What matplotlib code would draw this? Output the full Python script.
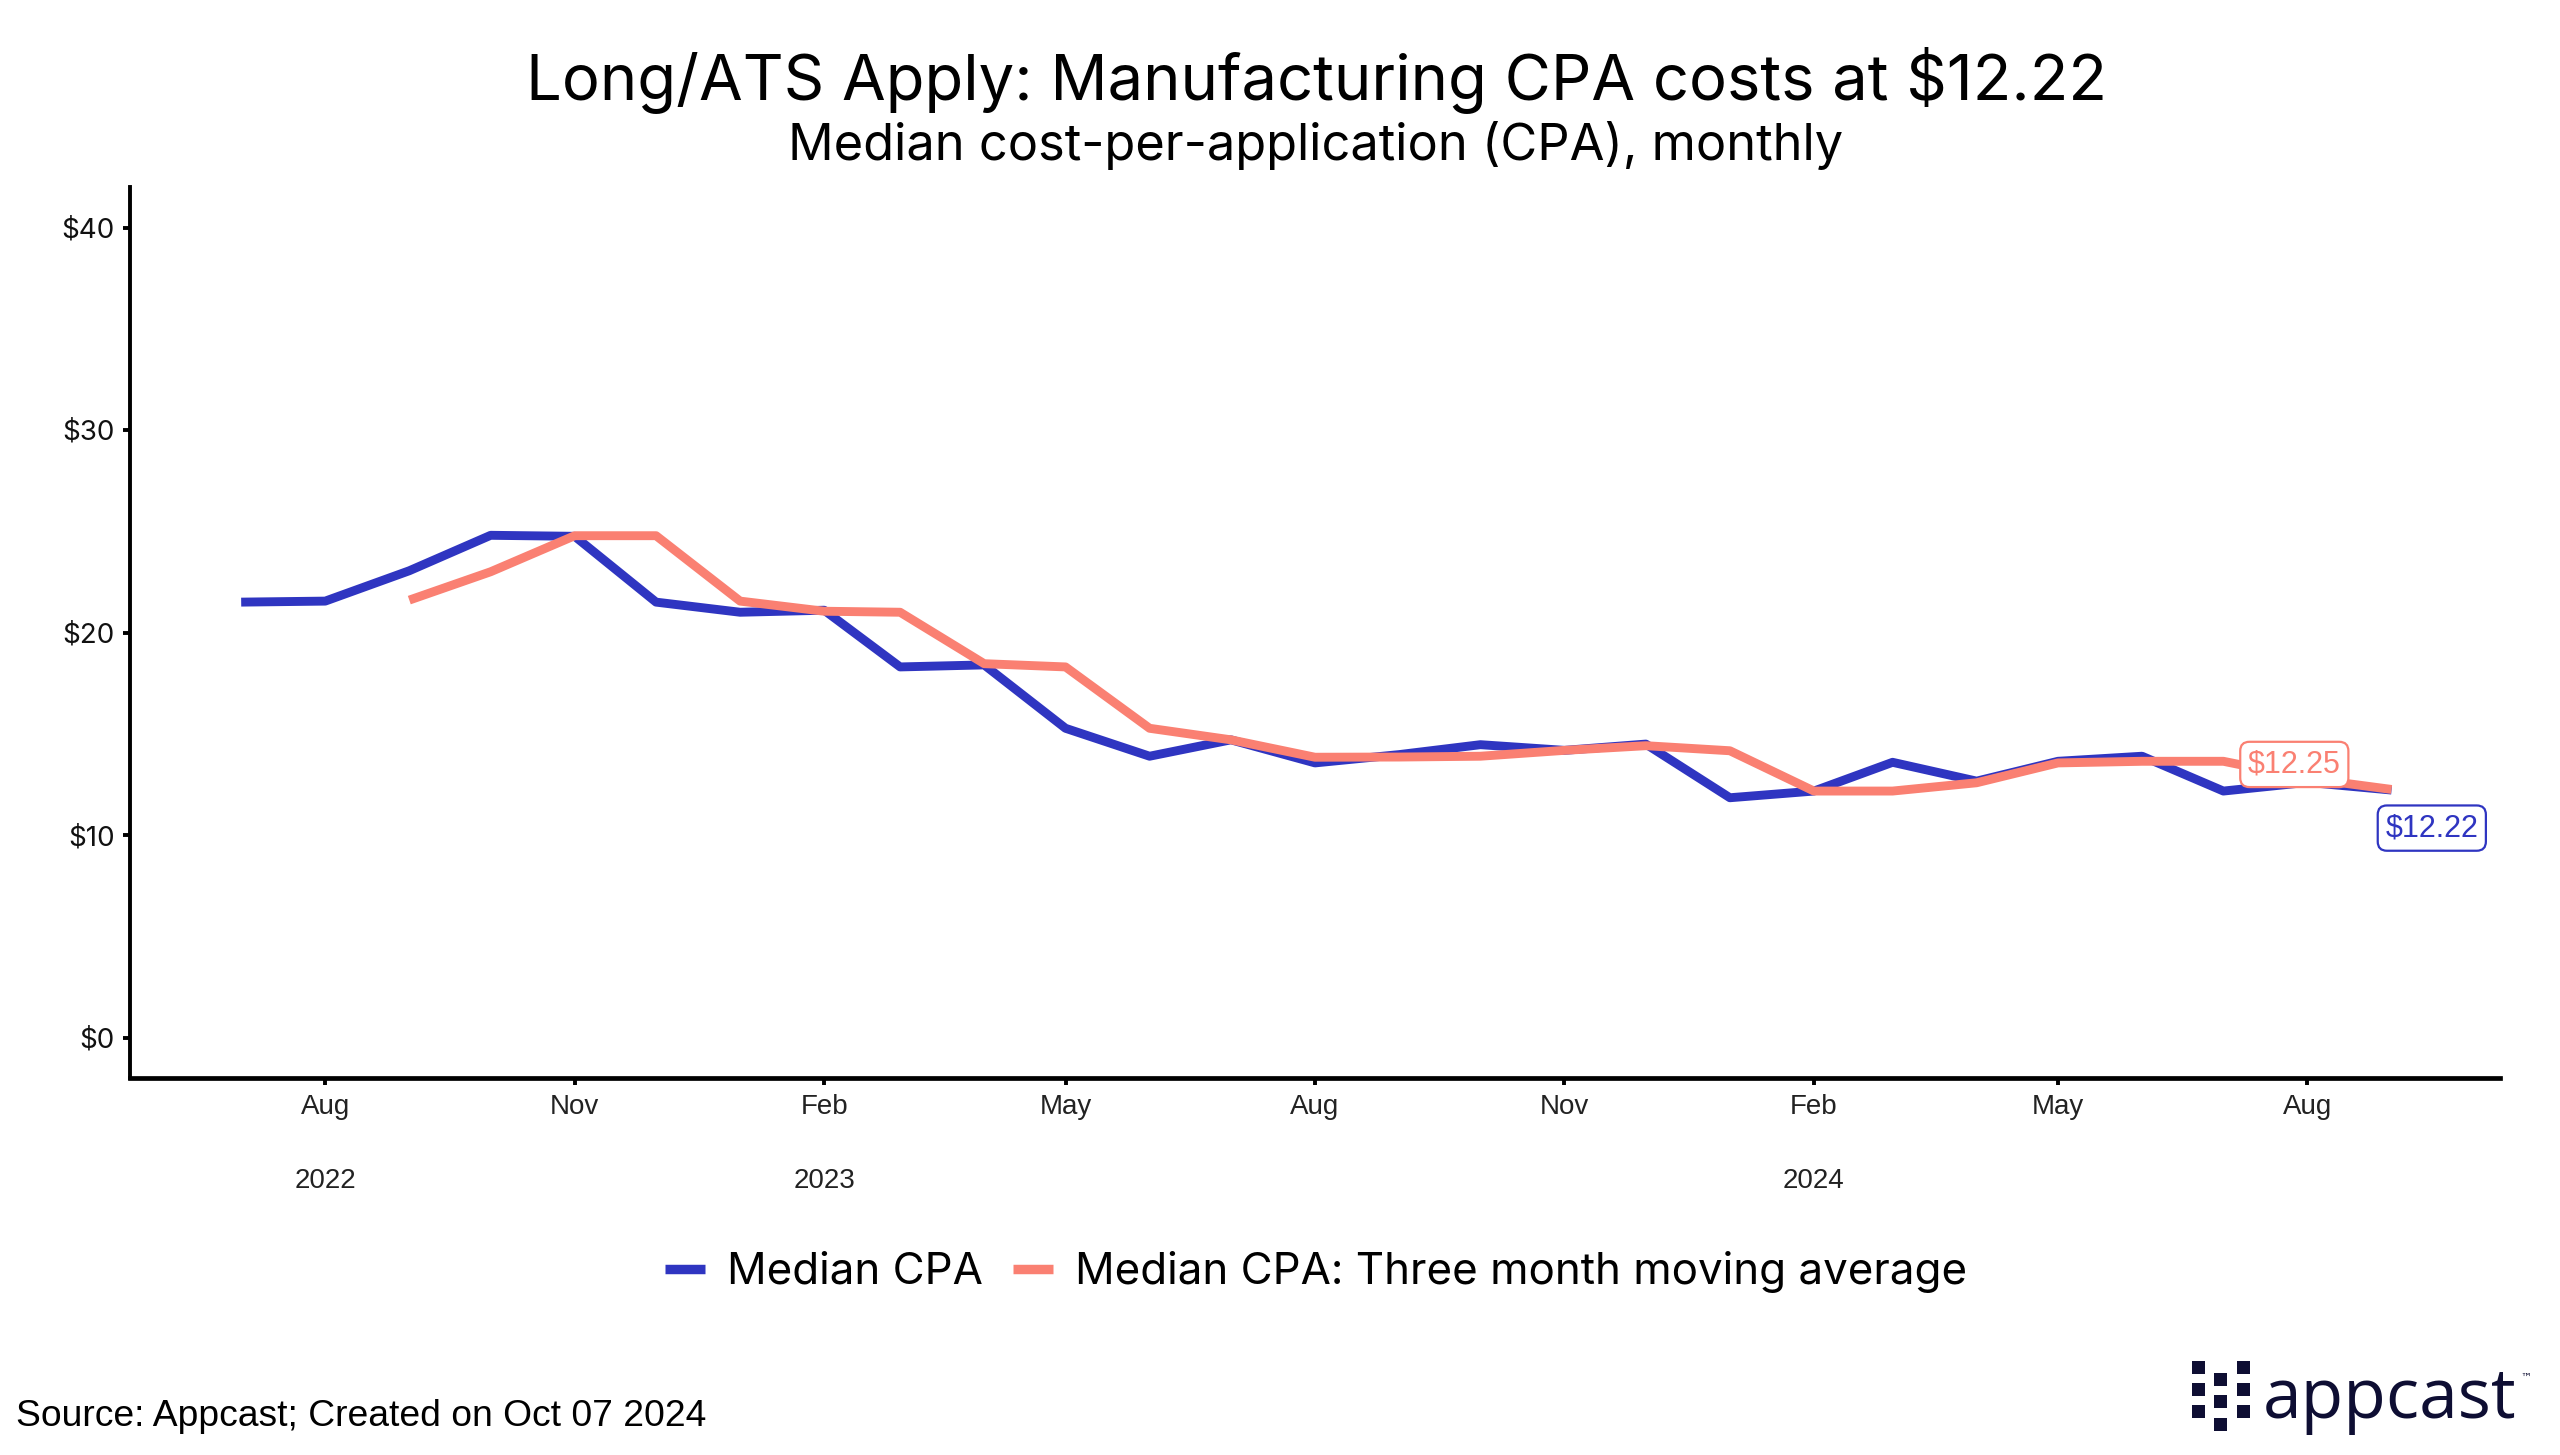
import matplotlib
matplotlib.use("Agg")
import matplotlib.pyplot as plt
import matplotlib.transforms as mtransforms
import pandas as pd
from matplotlib.patches import Rectangle
from matplotlib.lines import Line2D

# ---------------- data ----------------
cpa_months = pd.date_range("2022-07-01", "2024-09-01", freq="MS")
median_cpa = [21.5, 21.55, 23.05, 24.8, 24.75, 21.5, 21.0, 21.1, 18.3, 18.4,
              15.27, 13.89, 14.7, 13.56, 13.97, 14.46, 14.18, 14.49, 11.84,
              12.17, 13.59, 12.66, 13.64, 13.89, 12.17, 12.6, 12.22]
ma_months = pd.date_range("2022-09-01", "2024-09-01", freq="MS")
ma_cpa = [21.6, 23.0, 24.78, 24.78, 21.55, 21.05, 21.0, 18.46, 18.3, 15.27,
          14.7, 13.84, 13.85, 13.89, 14.18, 14.41, 14.16, 12.17, 12.17, 12.58,
          13.56, 13.64, 13.64, 12.8, 12.25]
last_ma_label = "$12.25"
last_cpa_label = "$12.22"

x_ticks = pd.to_datetime(["2022-08-01", "2022-11-01", "2023-02-01", "2023-05-01",
                          "2023-08-01", "2023-11-01", "2024-02-01", "2024-05-01",
                          "2024-08-01"])
x_tick_labels = ["Aug", "Nov", "Feb", "May", "Aug", "Nov", "Feb", "May", "Aug"]
year_pos = pd.to_datetime(["2022-08-01", "2023-02-01", "2024-02-01"])
year_labels = ["2022", "2023", "2024"]
y_ticks = [0, 10, 20, 30, 40]
y_tick_labels = ["$0", "$10", "$20", "$30", "$40"]

title = "Long/ATS Apply: Manufacturing CPA costs at $12.22"
subtitle = "Median cost-per-application (CPA), monthly"
series_names = ["Median CPA", "Median CPA: Three month moving average"]
source = "Source: Appcast; Created on Oct 07 2024"

BLUE = "#2F35C1"
SALMON = "#FA8072"
NAVY = "#0E0E33"

# ---------------- figure ----------------
W, H, DPI = 2560, 1455, 200
fig = plt.figure(figsize=(W / DPI, H / DPI), dpi=DPI)
fig.patch.set_facecolor("white")

def fx(px):
    return px / W

def fy(py):
    return 1 - py / H

ax = fig.add_axes([fx(130), fy(1078), fx(2500) - fx(130), fy(187) - fy(1078)])

ax.plot(cpa_months, median_cpa, color=BLUE, lw=3.2, solid_capstyle="butt",
        solid_joinstyle="round", label=series_names[0])
ax.plot(ma_months, ma_cpa, color=SALMON, lw=3.2, solid_capstyle="butt",
        solid_joinstyle="round", label=series_names[1])

ax.set_xlim(cpa_months[0] - pd.Timedelta(days=41), cpa_months[-1] + pd.Timedelta(days=40))
ax.set_ylim(-2, 42)

ax.set_yticks(y_ticks)
ax.set_yticklabels(y_tick_labels, fontfamily="Inter", fontsize=10, color="#111111")
ax.set_xticks(x_ticks)
ax.set_xticklabels(x_tick_labels, fontfamily="Liberation Sans", fontsize=10, color="#222222")
ax.tick_params(axis="both", length=2.6, width=1.4, color="black", pad=3)

for s in ["top", "right"]:
    ax.spines[s].set_visible(False)
ax.spines["left"].set_linewidth(1.4)
ax.spines["bottom"].set_linewidth(1.7)

trans = mtransforms.blended_transform_factory(ax.transData, ax.transAxes)
for xp, lab in zip(year_pos, year_labels):
    ax.text(xp, -0.116, lab, transform=trans, ha="center", va="center",
            fontfamily="Liberation Sans", fontsize=10, color="#222222")

# end labels
ax.annotate(last_ma_label, xy=(ma_months[-1], ma_cpa[-1]), xytext=(-35, 9),
            textcoords="offset points", ha="center", va="center",
            fontfamily="Liberation Sans", fontsize=11, color=SALMON,
            bbox=dict(boxstyle="round,pad=0.25,rounding_size=0.3", fc="white",
                      ec=SALMON, lw=0.8))
ax.annotate(last_cpa_label, xy=(cpa_months[-1], median_cpa[-1]), xytext=(14.5, -13.7),
            textcoords="offset points", ha="center", va="center",
            fontfamily="Liberation Sans", fontsize=11, color=BLUE,
            bbox=dict(boxstyle="round,pad=0.25,rounding_size=0.3", fc="white",
                      ec=BLUE, lw=0.8))

# titles
fig.text(fx(1316), fy(80), title, ha="center", va="center", fontfamily="Inter",
         fontsize=22.8, color="black")
fig.text(fx(1316), fy(145), subtitle, ha="center", va="center", fontfamily="Inter",
         fontsize=18.2, color="black")

# legend
handles = [Line2D([], [], color=BLUE, lw=3.4, solid_capstyle="butt"),
           Line2D([], [], color=SALMON, lw=3.4, solid_capstyle="butt")]
leg = fig.legend(handles, series_names, loc="center", bbox_to_anchor=(fx(1316), fy(1272)),
                 ncol=2, frameon=False, handlelength=0.9, handletextpad=0.5,
                 columnspacing=0.7, prop={"family": "Inter", "size": 15.8})

# source
fig.text(fx(16), fy(1416), source, ha="left", va="center",
         fontfamily="Liberation Sans", fontsize=13.4, color="black")

# logo
sq = 12.5
cols = [2192, 2214, 2237]
rows_a = [1361, 1383, 1405]
rows_b = [1373, 1395, 1418]
for ci, cx in enumerate(cols):
    rows = rows_b if ci == 1 else rows_a
    for ry in rows:
        fig.add_artist(Rectangle((fx(cx), fy(ry + sq)), sq / W, sq / H,
                                 transform=fig.transFigure, color=NAVY, lw=0))
fig.text(fx(2263), fy(1418), "appcast", ha="left", va="baseline", fontfamily="Open Sans",
         fontweight="medium", fontsize=25, color=NAVY)
fig.text(fx(2520), fy(1378), "™", ha="left", va="center", fontfamily="DejaVu Sans",
         fontsize=4, color=NAVY)

fig.savefig("out.png", dpi=DPI, facecolor="white")
